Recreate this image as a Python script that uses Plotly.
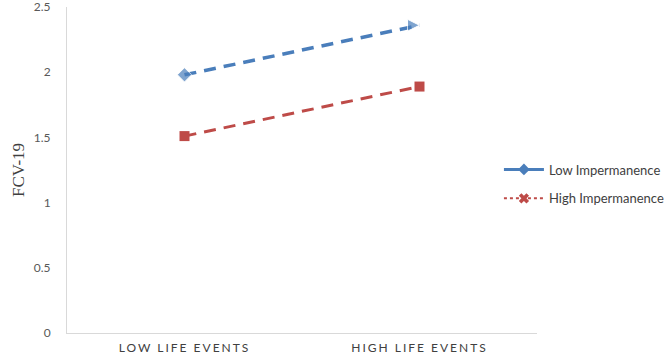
import plotly.graph_objects as go

categories = ["LOW LIFE EVENTS", "HIGH LIFE EVENTS"]
low_imp = [1.98, 2.36]
high_imp = [1.51, 1.89]
series_names = ["Low Impermanence", "High Impermanence"]
y_ticks = [0, 0.5, 1, 1.5, 2, 2.5]
y_tick_text = ["0", "0.5", "1", "1.5", "2", "2.5"]

blue = "#4a7ebb"
red = "#be4b48"

fig = go.Figure()
fig.add_trace(go.Scatter(
    x=categories, y=low_imp, mode="lines+markers", showlegend=False,
    line=dict(color=blue, width=3.5, dash="12px,8px"),
    marker=dict(symbol=["diamond", "arrow-right"], size=[11, 12], color=blue),
))
fig.add_trace(go.Scatter(
    x=categories, y=high_imp, mode="lines+markers", showlegend=False,
    line=dict(color=red, width=3, dash="12px,8px"),
    marker=dict(symbol="square", size=10, color=red),
))
# legend entries
fig.add_trace(go.Scatter(
    x=[None], y=[None], mode="lines+markers", name=series_names[0],
    legendgroup="a",
    line=dict(color=blue, width=3),
    marker=dict(symbol="diamond", size=9, color=blue),
))
fig.add_trace(go.Scatter(
    x=[None], y=[None], mode="lines+markers", name=series_names[1],
    legendgroup="b",
    line=dict(color=red, width=2, dash="dot"),
    marker=dict(symbol="x", size=9, color=red),
))

fig.update_layout(
    width=669, height=358,
    margin=dict(l=67, r=132, t=7, b=25, autoexpand=False),
    paper_bgcolor="white", plot_bgcolor="white",
    font=dict(family="Lato, Open Sans, sans-serif", size=12, color="#595959"),
    legend=dict(
        x=0.919, xanchor="left", y=0.457, yanchor="middle",
        font=dict(size=13, color="#404040"),
        bgcolor="rgba(0,0,0,0)", tracegroupgap=9, itemwidth=40,
    ),
)
fig.update_xaxes(
    type="category", range=[-0.5, 1.5], automargin=False,
    tickvals=categories,
    ticktext=['<span style="letter-spacing:2px">%s</span>' % c for c in categories],
    showline=True, linecolor="#d9d9d9", linewidth=1,
    showgrid=False, ticks="", zeroline=False,
    tickfont=dict(size=12, color="#404040"),
    ticklabelstandoff=4,
)
fig.update_yaxes(
    range=[0, 2.5001], tickvals=y_ticks, ticktext=y_tick_text, automargin=False,
    showline=True, linecolor="#d9d9d9", linewidth=1,
    showgrid=False, ticks="", zeroline=False,
    tickfont=dict(size=12, color="#595959"),
    ticklabelstandoff=13, ticklabeloverflow="allow",
    title=dict(text="FCV-19", font=dict(family="Liberation Serif, Times New Roman, serif", size=17, color="#404040"), standoff=4),
)

fig.write_html("out.html", config={"displayModeBar": False},
               post_script="document.body.style.margin='0';")
